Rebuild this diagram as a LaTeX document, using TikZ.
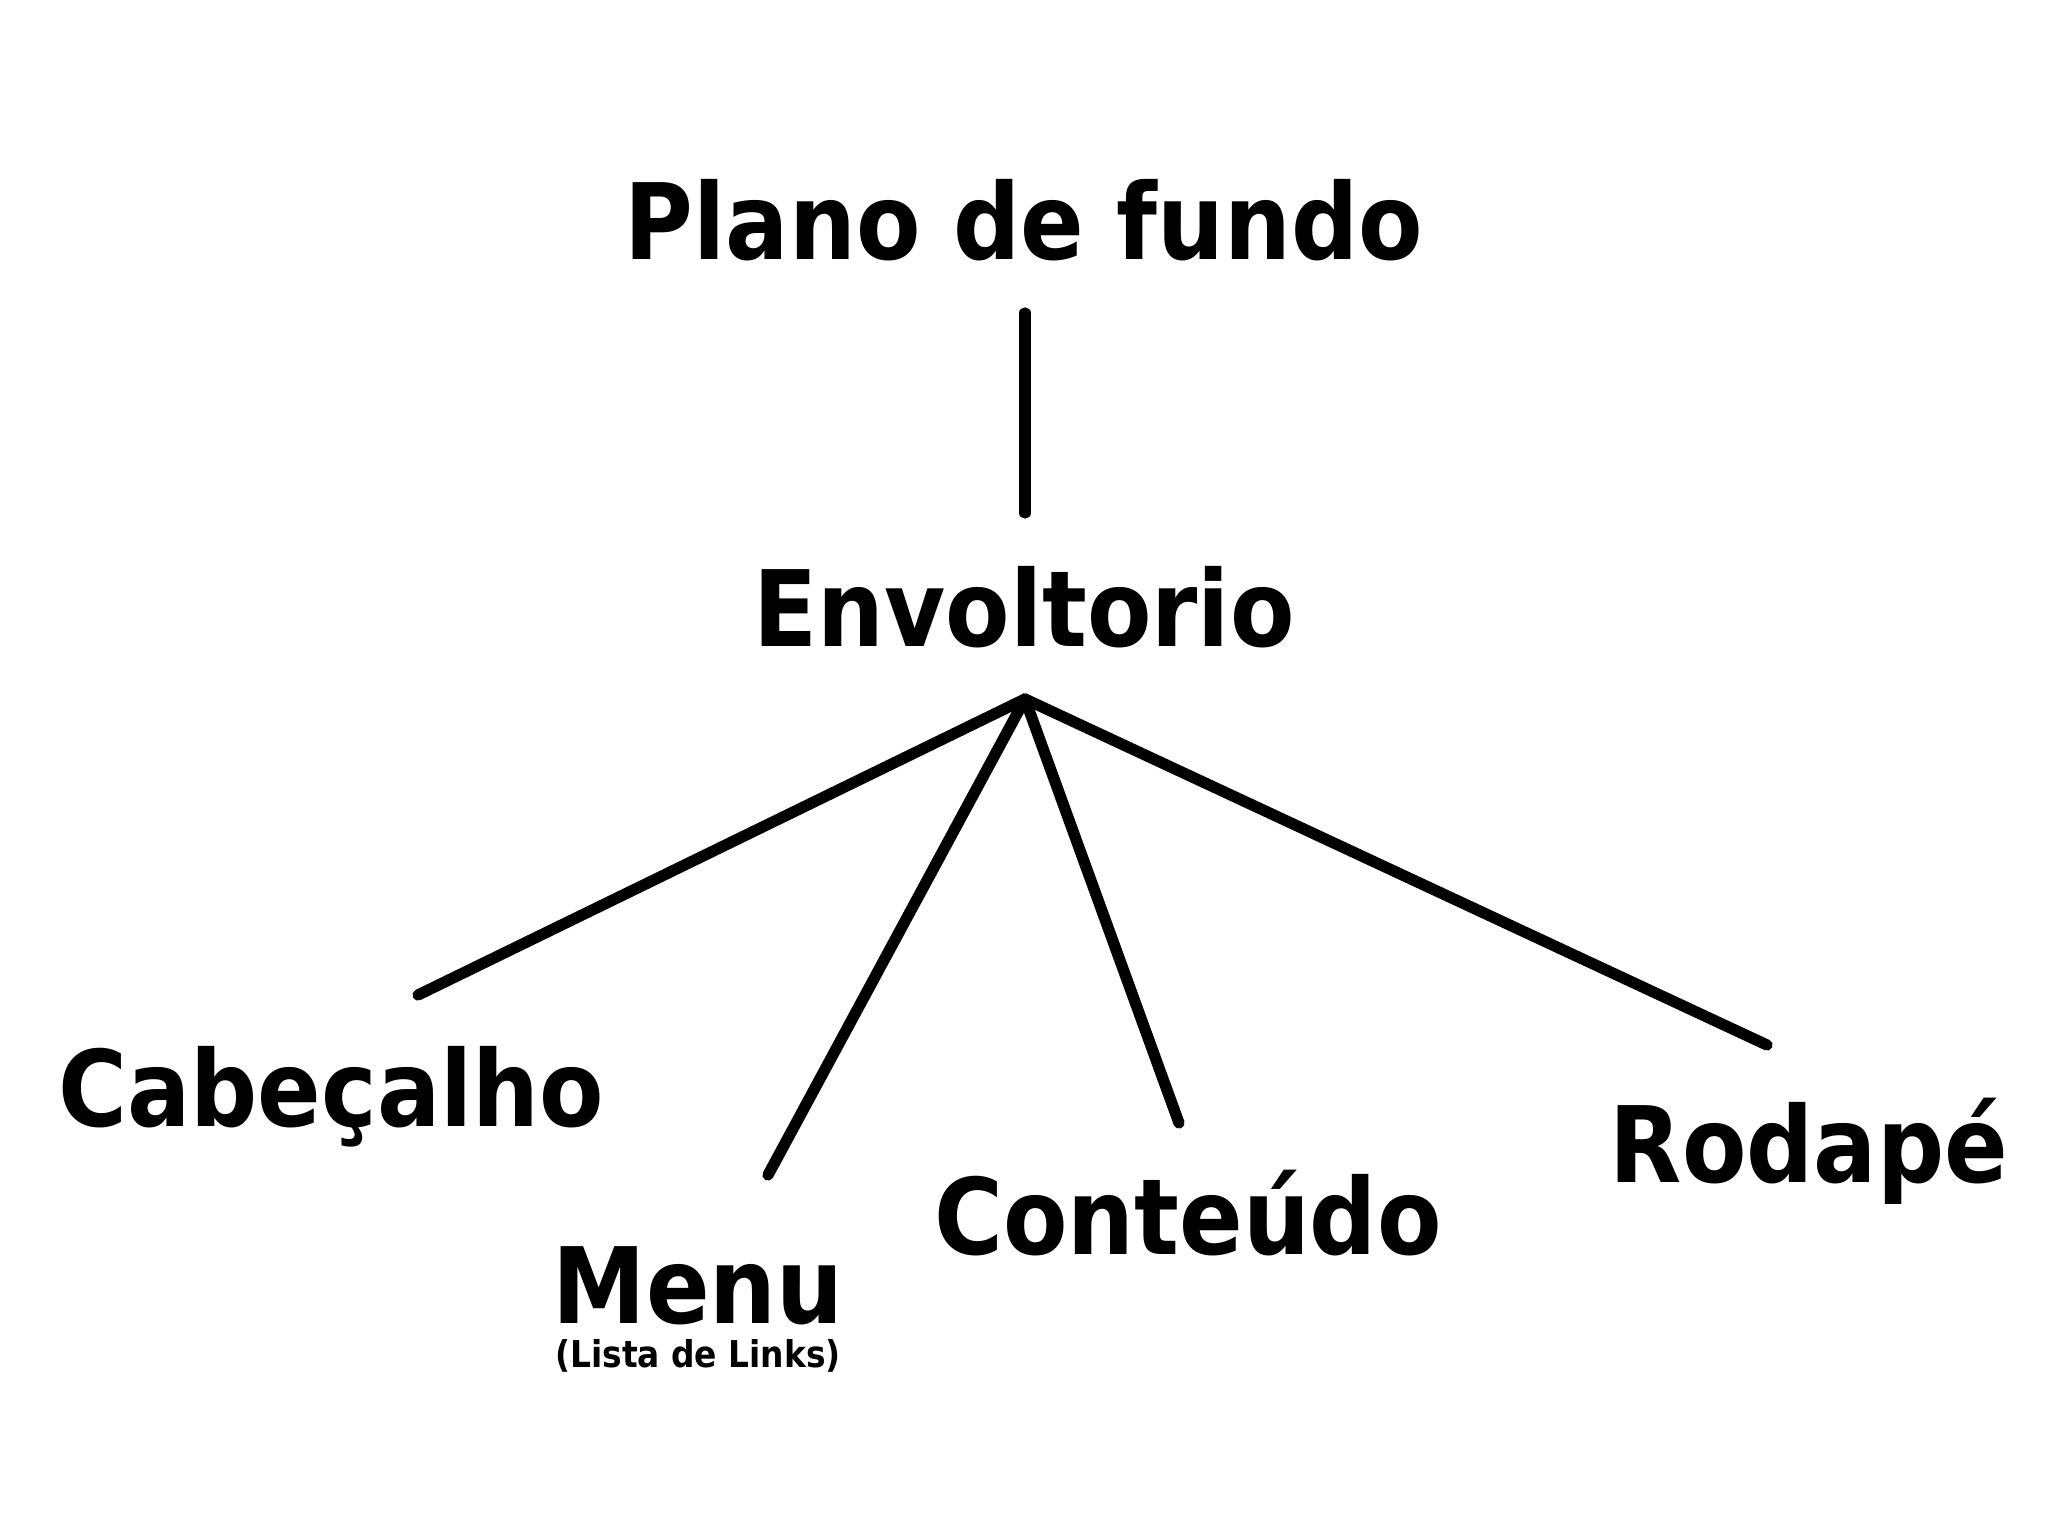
\documentclass[tikz,border=0pt]{standalone}
\usepackage{fontspec}
\setmainfont{DejaVu Sans}[FakeStretch=0.89]
\usetikzlibrary{positioning}

\begin{document}
\begin{tikzpicture}[
    x=0.01cm, y=-0.01cm,
    lbl/.style={inner sep=0pt, anchor=base, font=\bfseries\fontsize{30}{36}\selectfont},
    small/.style={inner sep=0pt, font=\bfseries\fontsize{10.5}{12}\selectfont},
    link/.style={line width=3.2pt, line cap=round}
]
% page frame
\useasboundingbox (0,0) rectangle (2048,1536);

% 1. Top levels
\node[lbl] (plano) at (1024,259) {Plano de fundo};
\node[lbl] (envolt) at (1024,646) {Envoltorio};

% 2. Children
\node[lbl] (cabec) at (331,1126) {Cabeçalho};
\node[lbl] (menu) at (698,1323) {Menu};
\node[small, below=4.5pt of menu.base, anchor=north] (lista) {(Lista de Links)};
\node[lbl] (conteudo) at (1188,1254) {Conteúdo};
\node[lbl] (rodape) at (1809,1182) {Rodapé};

% 3. Line ends
\coordinate (planoEnd) at (1025,313);
\coordinate (envoltTop) at (1025,513);
\coordinate (apex) at (1025,699);
\coordinate (cabecEnd) at (418,995);
\coordinate (menuEnd) at (768,1175);
\coordinate (conteudoEnd) at (1179,1123);
\coordinate (rodapeEnd) at (1767,1045);

% 4. Connectors
\draw[link] (planoEnd) -- (envoltTop);
\draw[link] (apex) -- (cabecEnd);
\draw[link] (apex) -- (menuEnd);
\draw[link] (apex) -- (conteudoEnd);
\draw[link] (apex) -- (rodapeEnd);

\end{tikzpicture}
\end{document}
